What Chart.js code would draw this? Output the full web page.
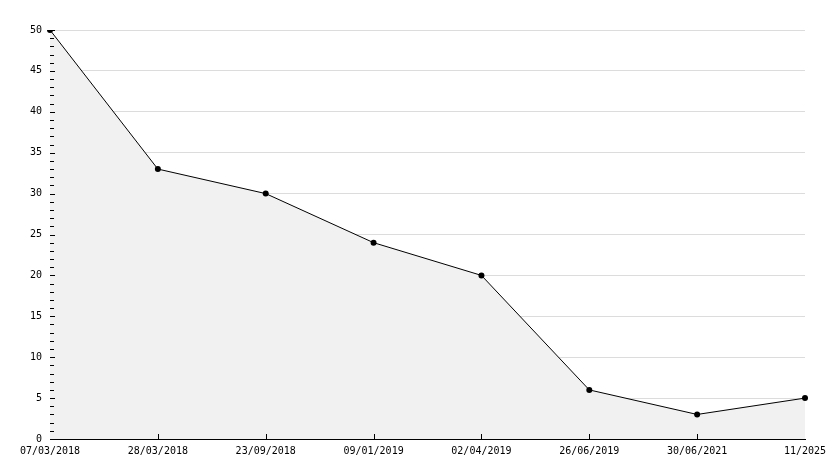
<!DOCTYPE html>
<html>
<head>
<meta charset="utf-8">
<script src="https://cdn.jsdelivr.net/npm/chart.js@4/dist/chart.umd.min.js"></script>
<style>
  html, body { margin: 0; padding: 0; background: #fff; }
  #wrap { width: 834px; height: 468px; }
</style>
</head>
<body>
<div id="wrap"><canvas id="chart"></canvas></div>
<script>
const dates = ["07/03/2018", "28/03/2018", "23/09/2018", "09/01/2019",
               "02/04/2019", "26/06/2019", "30/06/2021", "11/2025"];
const counts = [50, 33, 30, 24, 20, 6, 3, 5];
const yMin = 0, yMax = 50, yStep = 5, yMinorStep = 1;

// ticks drawn on the inside of the axes, like the original plot
const innerTicks = {
  id: "innerTicks",
  afterDraw(chart) {
    const {ctx, chartArea: area, scales: {x, y}} = chart;
    ctx.save();
    ctx.strokeStyle = "#000";
    ctx.lineWidth = 1;
    ctx.beginPath();
    for (let v = yMin; v <= yMax; v += yMinorStep) {
      const py = Math.round(y.getPixelForValue(v)) + 0.5;
      const len = v % yStep === 0 ? 5 : 4;
      ctx.moveTo(area.left, py);
      ctx.lineTo(area.left + len, py);
    }
    for (let i = 1; i < dates.length - 1; i++) {
      const px = Math.round(x.getPixelForValue(i)) + 0.5;
      ctx.moveTo(px, area.bottom);
      ctx.lineTo(px, area.bottom - 5);
    }
    ctx.stroke();
    ctx.restore();
  }
};

const font = {family: "'DejaVu Sans Mono', monospace", size: 10};

new Chart(document.getElementById("chart"), {
  type: "line",
  data: {
    labels: dates,
    datasets: [{
      data: counts,
      borderColor: "#000",
      borderWidth: 1,
      backgroundColor: "#f1f1f1",
      fill: "origin",
      tension: 0,
      pointRadius: 3,
      pointStyle: "circle",
      pointBackgroundColor: "#000",
      pointBorderColor: "#000",
      pointBorderWidth: 0
    }]
  },
  options: {
    responsive: true,
    maintainAspectRatio: false,
    animation: false,
    layout: {padding: {top: 30, right: 29, left: 0, bottom: 0}},
    plugins: {legend: {display: false}, tooltip: {enabled: false}},
    scales: {
      x: {
        offset: false,
        grid: {display: false, drawTicks: false},
        border: {display: true, color: "#000", width: 1},
        ticks: {color: "#000", font: font, padding: 6, maxRotation: 0, autoSkip: false},
        afterFit(scale) { scale.height = 29; }
      },
      y: {
        min: yMin,
        max: yMax,
        grid: {color: "#dcdcdc", drawTicks: false},
        border: {display: true, color: "#000", width: 1},
        ticks: {stepSize: yStep, color: "#000", font: font, padding: 8},
        afterFit(scale) { scale.width = 50; }
      }
    }
  },
  plugins: [innerTicks]
});
</script>
</body>
</html>
